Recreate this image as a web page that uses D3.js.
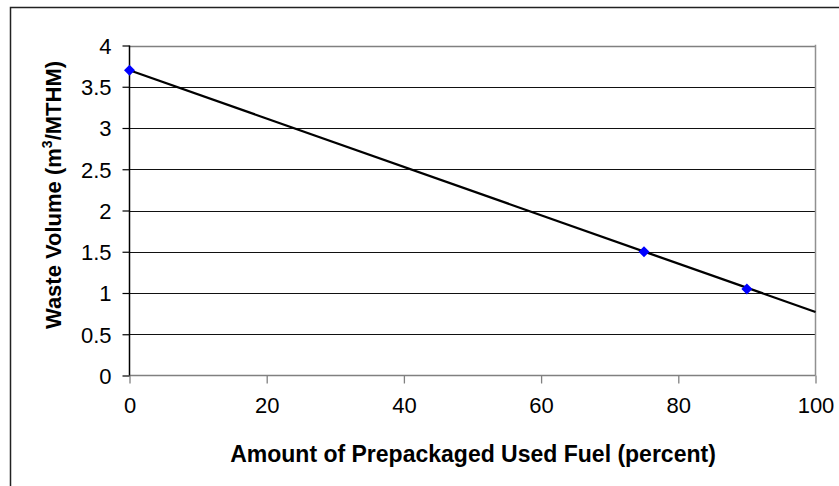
<!DOCTYPE html>
<html>
<head>
<meta charset="utf-8">
<script src="https://cdn.jsdelivr.net/npm/d3@7"></script>
<style>
  html, body { margin: 0; padding: 0; background: #fff; }
  svg { display: block; font-family: "Liberation Sans", Arial, sans-serif; }
</style>
</head>
<body>
<svg id="chart" width="839" height="486"></svg>
<script>
// Data
const fuelPercent = [0, 75, 90];
const wasteVolume = [3.70, 1.50, 1.05];
// Linear trendline endpoints (as drawn)
const trendX = [0, 100];
const trendY = [3.70, 0.77];
const xTicks = [0, 20, 40, 60, 80, 100];
const yTicks = [0, 0.5, 1, 1.5, 2, 2.5, 3, 3.5, 4];
const xTitle = "Amount of Prepackaged Used Fuel (percent)";

const svg = d3.select("#chart");
const plot = { left: 129.5, top: 45.5, right: 815.5, bottom: 375.5 };
const FONT = "Liberation Sans, Arial, sans-serif";

// outer chart border
svg.append("rect")
  .attr("x", 10.5).attr("y", 7.5)
  .attr("width", 840).attr("height", 490)
  .attr("fill", "#fff").attr("stroke", "#222").attr("stroke-width", 1.5);

const x = d3.scaleLinear().domain([0, 100]).range([plot.left, plot.right]);
const y = d3.scaleLinear().domain([0, 4]).range([plot.bottom, plot.top]);

// gridlines
svg.append("g").selectAll("line").data(yTicks.filter(d => d > 0)).join("line")
  .attr("x1", plot.left).attr("x2", plot.right)
  .attr("y1", d => Math.round(y(d)) + 0.5).attr("y2", d => Math.round(y(d)) + 0.5)
  .attr("stroke", d => d === 4 ? "#808080" : "#111").attr("stroke-width", d => d === 4 ? 1.5 : 1);

// plot area right border (gray)
svg.append("line")
  .attr("x1", plot.right).attr("x2", plot.right)
  .attr("y1", plot.top - 0.75).attr("y2", plot.bottom)
  .attr("stroke", "#909090").attr("stroke-width", 1.5);

// x axis
const xAxis = d3.axisBottom(x).tickValues(xTicks).tickSize(8).tickPadding(14)
  .tickFormat(d3.format("d"));
const gx = svg.append("g").attr("transform", `translate(0,${plot.bottom})`).call(xAxis);
gx.attr("font-size", null).attr("font-family", null);
gx.select(".domain").attr("stroke", "#808080").attr("stroke-width", 1.5)
  .attr("d", `M${plot.left},0H${plot.right}`);
gx.selectAll(".tick line").attr("stroke", "#808080").attr("stroke-width", 1.3);
gx.selectAll("text").style("font-size", "22px").attr("fill", "#000")
  .style("font-family", FONT);

// y axis
const yAxis = d3.axisLeft(y).tickValues(yTicks).tickSize(7).tickPadding(11)
  .tickFormat(d => d3.format("")(d));
const gy = svg.append("g").attr("transform", `translate(${plot.left},0)`).call(yAxis);
gy.attr("font-size", null).attr("font-family", null);
gy.select(".domain").attr("stroke", "#000").attr("stroke-width", 1.5)
  .attr("d", `M0,${plot.top}V${plot.bottom}`);
gy.selectAll(".tick line").attr("stroke", "#000").attr("stroke-width", 1.2);
gy.selectAll("text").style("font-size", "22px").attr("fill", "#000")
  .style("font-family", FONT).attr("dy", "0.36em");

// trendline
const line = d3.line().x(d => x(d[0])).y(d => y(d[1]));
svg.append("path")
  .datum(d3.zip(trendX, trendY))
  .attr("d", line)
  .attr("fill", "none").attr("stroke", "#000").attr("stroke-width", 2.3);

// markers (blue diamonds)
const r = 5.5;
svg.append("g").selectAll("path").data(d3.zip(fuelPercent, wasteVolume)).join("path")
  .attr("d", `M0,${-r}L${r},0L0,${r}L${-r},0Z`)
  .attr("transform", d => `translate(${x(d[0])},${y(d[1])})`)
  .attr("fill", "#0000ff");

// axis titles
svg.append("text")
  .attr("x", 473).attr("y", 461.5)
  .attr("text-anchor", "middle").attr("font-weight", "bold")
  .style("font-size", "23px").style("font-family", FONT)
  .text(xTitle);

const yt = svg.append("text")
  .attr("transform", `translate(61,195) rotate(-90)`)
  .attr("text-anchor", "middle").attr("font-weight", "bold")
  .style("font-size", "22px").style("font-family", FONT);
yt.append("tspan").text("Waste Volume (m");
yt.append("tspan").attr("dy", -9).style("font-size", "14px").text("3");
yt.append("tspan").attr("dy", 9).text("/MTHM)");
</script>
</body>
</html>
